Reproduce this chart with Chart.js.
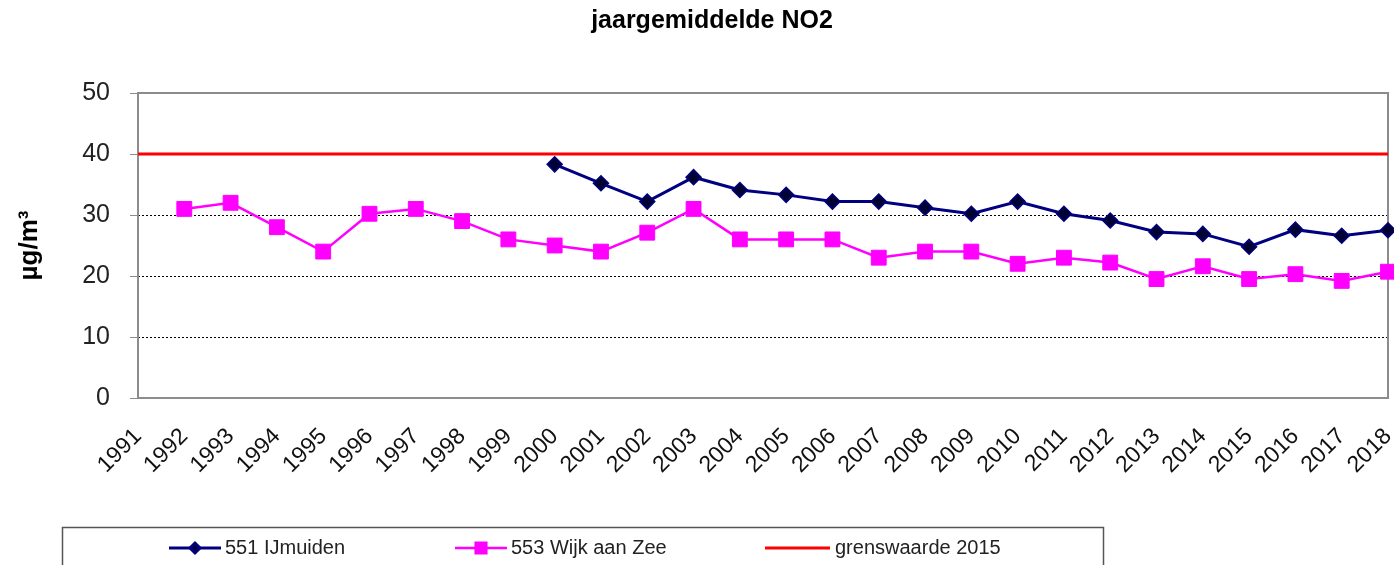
<!DOCTYPE html>
<html>
<head>
<meta charset="utf-8">
<script src="https://cdn.jsdelivr.net/npm/chart.js@4"></script>
<style>
  html, body { margin: 0; padding: 0; background: #fff; }
</style>
</head>
<body>
<canvas id="no2Chart" width="1394" height="565"></canvas>
<script>
var chartTitle = 'jaargemiddelde NO2';
var yAxisTitle = 'µg/m³';

var years = ['1991', '1992', '1993', '1994', '1995', '1996', '1997', '1998', '1999', '2000',
             '2001', '2002', '2003', '2004', '2005', '2006', '2007', '2008', '2009', '2010',
             '2011', '2012', '2013', '2014', '2015', '2016', '2017', '2018'];

// 551 IJmuiden, starts in 2000
var ijmuiden = [null, null, null, null, null, null, null, null, null, 38.3,
                35.2, 32.2, 36.2, 34.1, 33.3, 32.2, 32.2, 31.2, 30.2, 32.2,
                30.2, 29.1, 27.2, 26.9, 24.8, 27.6, 26.6, 27.5];

// 553 Wijk aan Zee, starts in 1992
var wijkAanZee = [null, 31.0, 32.0, 28.0, 24.0, 30.2, 31.0, 29.0, 26.0, 25.0,
                  24.0, 27.1, 31.0, 26.0, 26.0, 26.0, 23.0, 24.0, 24.0, 22.0,
                  23.0, 22.2, 19.5, 21.6, 19.5, 20.3, 19.2, 20.7];

// grenswaarde 2015
var grenswaarde = [40, 40, 40, 40, 40, 40, 40, 40, 40, 40,
                   40, 40, 40, 40, 40, 40, 40, 40, 40, 40,
                   40, 40, 40, 40, 40, 40, 40, 40];

var dottedValues = [10, 20, 30];

Chart.defaults.font.family = '"Liberation Sans", Arial, sans-serif';

var titlePlugin = {
  id: 'topTitle',
  afterDraw: function(chart) {
    var ctx = chart.ctx;
    ctx.save();
    ctx.font = 'bold 25px "Liberation Sans", Arial, sans-serif';
    ctx.fillStyle = '#000';
    ctx.textAlign = 'center';
    ctx.textBaseline = 'middle';
    ctx.fillText(chartTitle, 712, 21);
    ctx.restore();
  }
};

var framePlugin = {
  id: 'plotFrame',
  beforeDatasetsDraw: function(chart) {
    var a = chart.chartArea;
    var ctx = chart.ctx;
    ctx.save();
    ctx.strokeStyle = '#8c8c8c';
    ctx.lineWidth = 2;
    ctx.strokeRect(a.left, a.top, a.right - a.left, a.bottom - a.top);
    ctx.restore();
  }
};

var boxLegend = {
  id: 'boxLegend',
  afterDraw: function(chart) {
    var ctx = chart.ctx;
    var slots = [
      {x0: 169, x1: 221, tx: 225, r: 5},
      {x0: 455, x1: 507, tx: 511, r: 7.5},
      {x0: 765, x1: 830, tx: 835, r: 0}
    ];
    var y = 548;
    ctx.save();
    ctx.strokeStyle = '#555';
    ctx.lineWidth = 1.5;
    ctx.strokeRect(62.5, 527.5, 1041, 60);

    chart.data.datasets.forEach(function(ds, i) {
      var s = slots[i];
      ctx.strokeStyle = ds.borderColor;
      ctx.lineWidth = ds.borderWidth;
      ctx.beginPath();
      ctx.moveTo(s.x0, y);
      ctx.lineTo(s.x1, y);
      ctx.stroke();
      if (s.r > 0) {
        ctx.fillStyle = ds.pointBackgroundColor;
        ctx.strokeStyle = ds.pointBorderColor;
        Chart.helpers.drawPoint(ctx, {
          pointStyle: ds.pointStyle,
          radius: s.r,
          rotation: 0,
          borderWidth: 1
        }, (s.x0 + s.x1) / 2, y);
      }
      ctx.fillStyle = '#222';
      ctx.font = '20px "Liberation Sans", Arial, sans-serif';
      ctx.textAlign = 'left';
      ctx.textBaseline = 'middle';
      ctx.fillText(ds.label, s.tx, y);
    });
    ctx.restore();
  }
};

var ctx_chart = document.getElementById('no2Chart');

var no2Chart = new Chart(ctx_chart, {
  type: 'line',
  data: {
    labels: years,
    datasets: [
      {
        label: '551 IJmuiden',
        data: ijmuiden,
        borderColor: '#000080',
        borderWidth: 3,
        pointStyle: 'rectRot',
        pointRadius: 7.5,
        pointBackgroundColor: '#000033',
        pointBorderColor: '#000080',
        pointBorderWidth: 1.5,
        tension: 0,
        clip: false
      },
      {
        label: '553 Wijk aan Zee',
        data: wijkAanZee,
        borderColor: '#ff00ff',
        borderWidth: 2.5,
        pointStyle: 'rect',
        pointRadius: 10.5,
        pointBackgroundColor: '#ff00ff',
        pointBorderColor: '#ff00ff',
        pointBorderWidth: 1,
        tension: 0,
        clip: false
      },
      {
        label: 'grenswaarde 2015',
        data: grenswaarde,
        borderColor: '#ff0000',
        borderWidth: 3,
        pointRadius: 0,
        pointStyle: 'line',
        pointBackgroundColor: '#ff0000',
        pointBorderColor: '#ff0000',
        tension: 0
      }
    ]
  },
  options: {
    responsive: false,
    animation: false,
    events: [],
    layout: { autoPadding: false, padding: { top: 93, right: 6, left: 0, bottom: 0 } },
    plugins: {
      legend: { display: false },
      title: { display: false },
      tooltip: { enabled: false }
    },
    scales: {
      x: {
        offset: false,
        grid: { display: false, drawTicks: false },
        border: { display: false },
        ticks: {
          autoSkip: false,
          maxRotation: 45,
          minRotation: 45,
          padding: 25,
          color: '#111',
          font: { size: 23 }
        },
        afterFit: function(scale) {
          scale.height = 167;
          scale.paddingLeft = 0;
          scale.paddingRight = 0;
        }
      },
      y: {
        min: 0,
        max: 50,
        ticks: {
          stepSize: 10,
          padding: 20,
          color: '#222',
          font: { size: 25 }
        },
        grid: {
          color: function(c) {
            return (c.tick && dottedValues.indexOf(c.tick.value) >= 0) ? '#000' : 'rgba(0,0,0,0)';
          },
          tickColor: '#8c8c8c',
          tickLength: 8,
          lineWidth: 1
        },
        border: { display: false, dash: [2, 2] },
        title: {
          display: true,
          text: yAxisTitle,
          color: '#000',
          font: { size: 26, weight: 'bold' },
          padding: { top: 14, bottom: 0 }
        },
        afterFit: function(scale) { scale.width = 138; }
      }
    }
  },
  plugins: [framePlugin, titlePlugin, boxLegend]
});
</script>
</body>
</html>
